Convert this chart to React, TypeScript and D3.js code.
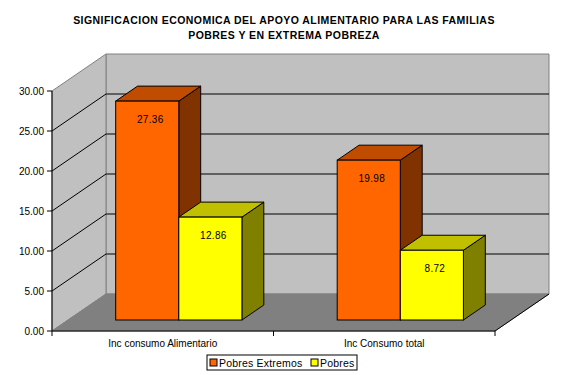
import React from "react";
import * as d3 from "d3";

const width = 565;
const height = 375;

const categories = ["Inc consumo Alimentario", "Inc Consumo total"];
const seriesNames = ["Pobres Extremos", "Pobres"];
const pobresExtremos = [27.36, 19.98];
const pobres = [12.86, 8.72];
const yTicks = [0, 5, 10, 15, 20, 25, 30];
const titleLines = [
  "SIGNIFICACION ECONOMICA DEL APOYO ALIMENTARIO PARA LAS FAMILIAS",
  "POBRES Y EN EXTREMA POBREZA",
];

// colours: front, side, top
const palette = [
  { front: "#ff6600", side: "#803300", top: "#c04c00" },
  { front: "#ffff00", side: "#808000", top: "#c0c000" },
];

// oblique depth of the plot box
const depthX = 54;
const depthY = 37;
// bars sit in the middle of the depth
const barStart = 11 / 37;
const barDepth = 15 / 37;

const font = "'Liberation Sans', Arial, sans-serif";

export default function App() {
  const y = d3.scaleLinear().domain([0, 30]).range([331, 91]);
  const x0 = d3.scaleBand().domain(categories).range([52, 495]);
  const x1 = d3
    .scaleBand()
    .domain(seriesNames)
    .range([0, x0.bandwidth()])
    .paddingOuter(0.755)
    .paddingInner(0);

  const x0Left = 52;
  const x0Right = 495;
  const yBottom = y(0);
  const yTop = y(30);

  const floor = [
    [x0Left, yBottom],
    [x0Right, yBottom],
    [x0Right + depthX, yBottom - depthY],
    [x0Left + depthX, yBottom - depthY],
  ];
  const backWall = [
    [x0Left + depthX, yTop - depthY],
    [x0Right + depthX, yTop - depthY],
    [x0Right + depthX, yBottom - depthY],
    [x0Left + depthX, yBottom - depthY],
  ];
  const leftWall = [
    [x0Left, yTop],
    [x0Left + depthX, yTop - depthY],
    [x0Left + depthX, yBottom - depthY],
    [x0Left, yBottom],
  ];
  const pts = (p: number[][]) => p.map((d) => d.join(",")).join(" ");

  const ox = depthX * barStart;
  const oy = depthY * barStart;
  const bdx = depthX * barDepth;
  const bdy = depthY * barDepth;

  const bars: any[] = [];
  categories.forEach((c, i) => {
    [pobresExtremos, pobres].forEach((vals, s) => {
      const v = vals[i];
      const bx = x0(c)! + x1(seriesNames[s])! + ox;
      const bw = x1.bandwidth();
      const by = y(v) - oy;
      const bb = yBottom - oy;
      bars.push({ key: c + s, bx, bw, by, bb, v, col: palette[s] });
    });
  });

  return (
    <svg
      width={width}
      height={height}
      style={{ position: "absolute", left: 0, top: 0, background: "#fff" }}
    >
      <g
        fontFamily={font}
        fontWeight="bold"
        fontSize={10.5}
        letterSpacing={0.45}
        textAnchor="middle"
      >
        {titleLines.map((t, i) => (
          <text key={i} x={284} y={23.5 + i * 15}>
            {t}
          </text>
        ))}
      </g>

      {/* walls and floor */}
      <polygon points={pts(backWall)} fill="#c0c0c0" stroke="#808080" />
      <polygon points={pts(leftWall)} fill="#c0c0c0" stroke="#808080" />
      <polygon points={pts(floor)} fill="#808080" stroke="#808080" />

      {/* gridlines */}
      {yTicks
        .filter((t) => t > 0 && t < 30)
        .map((t) => (
          <g key={t} stroke="#000" strokeWidth={1}>
            <line x1={x0Left} y1={y(t)} x2={x0Left + depthX} y2={y(t) - depthY} />
            <line
              x1={x0Left + depthX}
              y1={y(t) - depthY}
              x2={x0Right + depthX}
              y2={y(t) - depthY}
            />
          </g>
        ))}

      {/* right floor edge */}
      <line
        x1={x0Right}
        y1={yBottom}
        x2={x0Right + depthX}
        y2={yBottom - depthY}
        stroke="#000"
      />

      {/* bars */}
      {bars.map((b) => (
        <g key={b.key} stroke="#000" strokeWidth={1}>
          <polygon
            points={pts([
              [b.bx + b.bw, b.by],
              [b.bx + b.bw + bdx, b.by - bdy],
              [b.bx + b.bw + bdx, b.bb - bdy],
              [b.bx + b.bw, b.bb],
            ])}
            fill={b.col.side}
          />
          <polygon
            points={pts([
              [b.bx, b.by],
              [b.bx + bdx, b.by - bdy],
              [b.bx + b.bw + bdx, b.by - bdy],
              [b.bx + b.bw, b.by],
            ])}
            fill={b.col.top}
          />
          <rect x={b.bx} y={b.by} width={b.bw} height={b.bb - b.by} fill={b.col.front} />
        </g>
      ))}
      {bars.map((b) => (
        <text
          key={"l" + b.key}
          x={b.bx + b.bw / 2 + 3}
          y={b.by + 22}
          fontFamily={font}
          fontSize={10}
          letterSpacing={0.3}
          textAnchor="middle"
        >
          {b.v.toFixed(2)}
        </text>
      ))}

      {/* value axis */}
      <line x1={x0Left} y1={yTop} x2={x0Left} y2={yBottom} stroke="#000" />
      {yTicks.map((t) => (
        <g key={t}>
          <line x1={x0Left - 5} y1={y(t)} x2={x0Left} y2={y(t)} stroke="#000" />
          <text
            x={44}
            y={y(t) + 3.5}
            fontFamily={font}
            fontSize={10}
            textAnchor="end"
          >
            {t.toFixed(2)}
          </text>
        </g>
      ))}

      {/* category axis */}
      <line x1={x0Left} y1={yBottom} x2={x0Right} y2={yBottom} stroke="#000" />
      {[...categories.map((c) => x0(c)!), x0Right].map((xv, i) => (
        <line key={i} x1={xv} y1={yBottom} x2={xv} y2={yBottom + 5} stroke="#000" />
      ))}
      {categories.map((c) => (
        <text
          key={c}
          x={x0(c)! + x0.bandwidth() / 2}
          y={yBottom + 16}
          fontFamily={font}
          fontSize={10}
          textAnchor="middle"
        >
          {c}
        </text>
      ))}

      {/* legend */}
      <g fontFamily={font} fontSize={10.5} letterSpacing={0.2}>
        <rect x={207} y={355} width={150} height={15} fill="#fff" stroke="#000" />
        {seriesNames.map((s, i) => {
          const lx = i === 0 ? 210 : 311;
          return (
            <g key={s}>
              <rect x={lx} y={359} width={7} height={7} fill={palette[i].front} stroke="#000" />
              <text x={lx + 9} y={366.5}>
                {s}
              </text>
            </g>
          );
        })}
      </g>
    </svg>
  );
}
